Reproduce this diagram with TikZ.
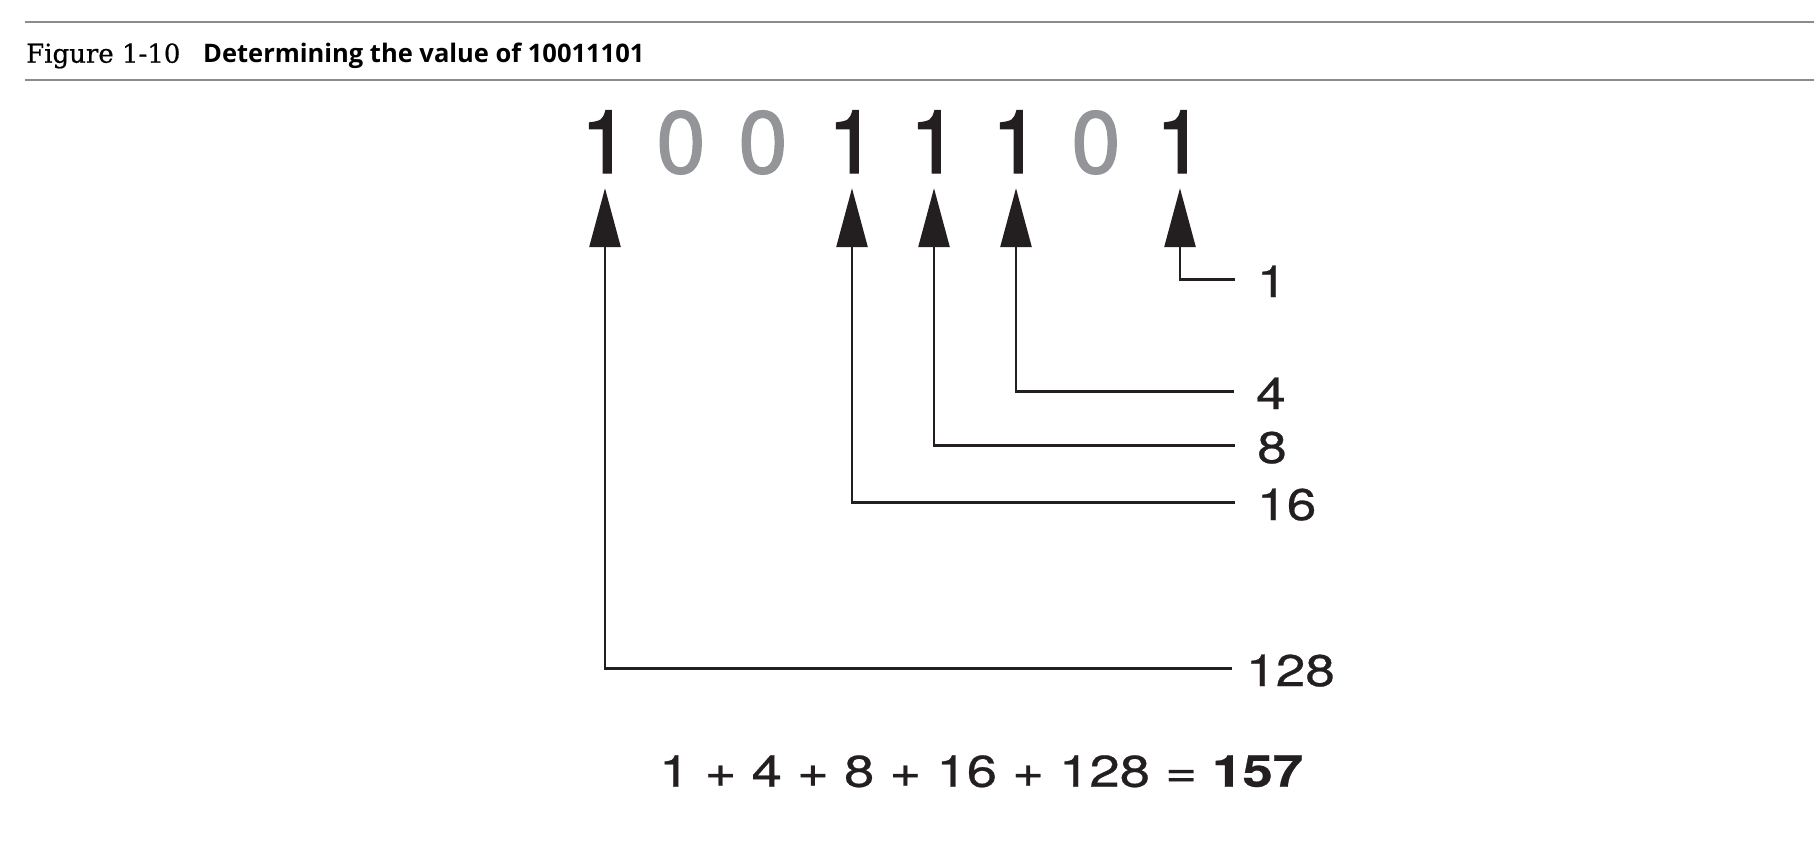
\documentclass[tikz,border=0pt]{standalone}
\usepackage{fontspec}
\usetikzlibrary{arrows.meta}
\newfontfamily\capserif[FakeBold=0.6]{DejaVu Serif}
\newfontfamily\capsans{Open Sans}
\newfontfamily\digfont[FakeBold=1.6]{TeX Gyre Heros}
\newfontfamily\labfont[FakeStretch=1.2,FakeBold=0.6]{TeX Gyre Heros}
\newfontfamily\sumfont[FakeStretch=1.23,FakeBold=0.6]{TeX Gyre Heros}
\definecolor{ink}{HTML}{231F20}
\definecolor{zerogray}{HTML}{939598}
\definecolor{rulegray}{HTML}{8C8C8C}
\begin{document}
\begin{tikzpicture}[x=1pt,y=-1pt,
  onedig/.style={font=\digfont\fontsize{88}{88}\selectfont, text=ink, inner sep=0pt, anchor=base},
  zerodig/.style={font=\digfont\fontsize{88}{88}\selectfont, text=zerogray, inner sep=0pt, anchor=base},
  lab/.style={font=\labfont\fontsize{44.3}{44.3}\selectfont, text=ink, inner sep=0pt, anchor=base west},
  sumtext/.style={font=\sumfont\fontsize{44.3}{44.3}\selectfont, text=ink, inner sep=0pt, anchor=base west},
  conn/.style={draw=ink, line width=2.7pt, -{Triangle[length=59pt,width=31pt]}, shorten >=15pt},
  rulel/.style={draw=rulegray, line width=2pt}]
\useasboundingbox (0,0) rectangle (1814,846);
% header rules and caption
\draw[rulel] (25,21.5) -- (1814,21.5);
\draw[rulel] (25,80) -- (1814,80);
\node[anchor=base west, inner sep=0pt, font=\capserif\fontsize{26}{26}\selectfont] (figno) at (26,62.7) {Figure 1-10};
\node[anchor=base west, inner sep=0pt, font=\capsans\bfseries\fontsize{25.5}{25.5}\selectfont] (captitle) at (203,62.7) {Determining the value of 10011101};
% binary digits
\node[onedig]  (d1) at (605,173) {1};
\node[zerodig] (d2) at (681,173) {0};
\node[zerodig] (d3) at (763,173) {0};
\node[onedig]  (d4) at (852,173) {1};
\node[onedig]  (d5) at (934,173) {1};
\node[onedig]  (d6) at (1016,173) {1};
\node[zerodig] (d7) at (1096,173) {0};
\node[onedig]  (d8) at (1180,173) {1};
% place-value labels
\node[lab] (l1)   at (1257,297) {1};
\node[lab] (l4)   at (1256,409) {4};
\node[lab] (l8)   at (1257,463) {8};
\node[lab] (l16)  at (1257,520) {16};
\node[lab] (l128) at (1246,686) {128};
% connectors
\draw[conn] ([xshift=-22pt,yshift=2pt]l1.west)   -| (d8.south);
\draw[conn] ([xshift=-22pt,yshift=2pt]l4.west)   -| (d6.south);
\draw[conn] ([xshift=-22pt,yshift=2pt]l8.west)   -| (d5.south);
\draw[conn] ([xshift=-22pt,yshift=2pt]l16.west)  -| (d4.south);
\draw[conn] ([xshift=-14pt,yshift=2pt]l128.west) -| (d1.south);
% sum
\node[sumtext] (sum) at (659,786.7) {1 + 4 + 8 + 16 + 128 = \textbf{157}};
\end{tikzpicture}
\end{document}
